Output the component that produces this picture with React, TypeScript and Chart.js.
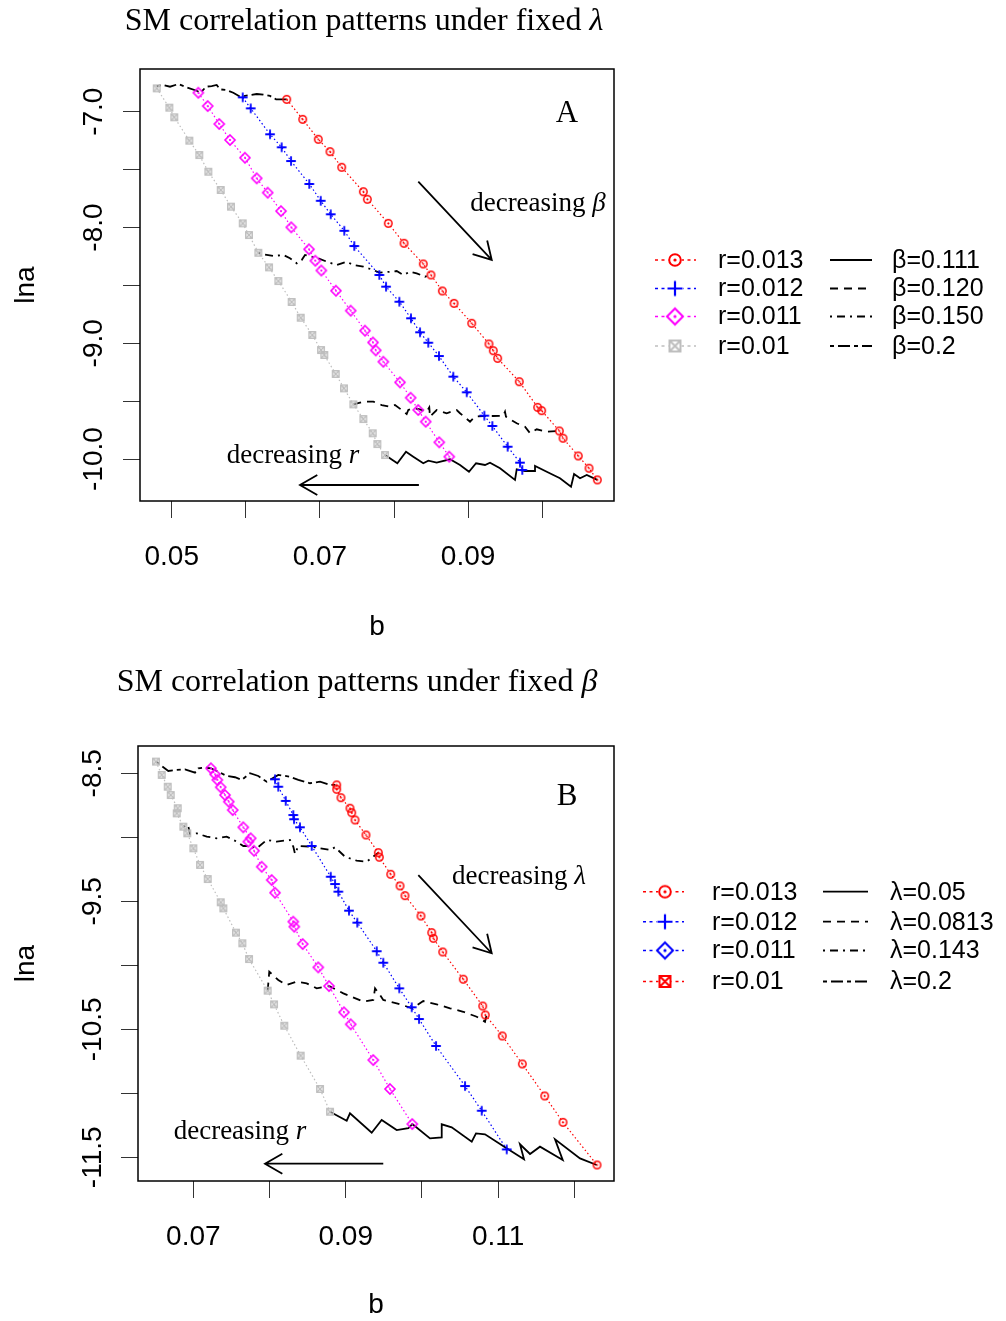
import React, { useEffect, useRef } from 'react';
import { Chart, registerables } from 'chart.js';

Chart.register(...registerables);

const SANS = "'Liberation Sans', Arial, Helvetica, sans-serif";
const SERIF = "'Liberation Serif', 'Times New Roman', Times, serif";

const RED = '#FF0000';
const BLUE = '#0000FF';
const MAGENTA = '#FF00FF';
const GREY = '#BEBEBE';
const BLACK = '#000000';

// ---------------- Panel A (fixed lambda) ----------------
const A_R013_B = [0.06552, 0.06768, 0.06978, 0.07136, 0.07294, 0.07586, 0.0764, 0.07923, 0.08135, 0.08395, 0.08499, 0.08652, 0.0881, 0.09049, 0.09282, 0.0934, 0.09399, 0.09691, 0.09939, 0.09993, 0.10231, 0.10281, 0.10487, 0.10632, 0.10744];
const A_R013_LNA = [-6.893, -7.066, -7.238, -7.345, -7.48, -7.691, -7.756, -7.964, -8.136, -8.315, -8.41, -8.548, -8.655, -8.827, -9.006, -9.064, -9.13, -9.332, -9.553, -9.582, -9.757, -9.82, -9.973, -10.079, -10.18];

const A_R012_B = [0.05958, 0.06066, 0.06327, 0.06484, 0.0661, 0.06857, 0.07011, 0.07146, 0.07329, 0.07464, 0.07802, 0.07892, 0.08072, 0.08229, 0.08351, 0.08463, 0.08607, 0.088, 0.08981, 0.09219, 0.09327, 0.09534, 0.097, 0.09731];
const A_R012_LNA = [-6.876, -6.971, -7.195, -7.307, -7.426, -7.624, -7.769, -7.886, -8.028, -8.16, -8.41, -8.511, -8.641, -8.784, -8.905, -8.995, -9.11, -9.288, -9.423, -9.625, -9.714, -9.893, -10.031, -10.094];

const A_R011_B = [0.05359, 0.05486, 0.05642, 0.05787, 0.05989, 0.06147, 0.06296, 0.06475, 0.06614, 0.06853, 0.06938, 0.07019, 0.07217, 0.07416, 0.07609, 0.07717, 0.07754, 0.07856, 0.08081, 0.08225, 0.08328, 0.08428, 0.08611, 0.08746];
const A_R011_LNA = [-6.836, -6.951, -7.106, -7.244, -7.397, -7.575, -7.699, -7.858, -7.998, -8.188, -8.287, -8.371, -8.546, -8.718, -8.891, -8.993, -9.061, -9.159, -9.337, -9.47, -9.576, -9.677, -9.855, -9.979];

const A_R010_B = [0.04798, 0.04968, 0.05035, 0.05238, 0.05372, 0.05494, 0.05661, 0.058, 0.05958, 0.06043, 0.06169, 0.06313, 0.06439, 0.06619, 0.06741, 0.06897, 0.07015, 0.07059, 0.07213, 0.07325, 0.07451, 0.07586, 0.07713, 0.07775, 0.07879];
const A_R010_LNA = [-6.798, -6.965, -7.048, -7.25, -7.374, -7.518, -7.676, -7.82, -7.964, -8.065, -8.218, -8.344, -8.462, -8.643, -8.779, -8.928, -9.058, -9.101, -9.265, -9.389, -9.527, -9.654, -9.777, -9.87, -9.965];

const A_BETA0111_B = [0.07879, 0.08045, 0.08162, 0.0826, 0.08395, 0.08463, 0.08576, 0.08756, 0.08891, 0.09012, 0.09107, 0.09228, 0.09296, 0.09431, 0.09633, 0.09656, 0.09768, 0.09903, 0.09903, 0.10061, 0.1024, 0.10389, 0.1043, 0.10511, 0.10601, 0.10744];
const A_BETA0111_LNA = [-9.965, -10.036, -9.936, -9.979, -10.036, -10.014, -10.031, -10.002, -10.051, -10.109, -10.036, -10.051, -10.031, -10.079, -10.18, -10.088, -10.103, -10.103, -10.06, -10.109, -10.166, -10.238, -10.129, -10.166, -10.137, -10.18];

const A_BETA0120_B = [0.07451, 0.07586, 0.07721, 0.07834, 0.07946, 0.08013, 0.08104, 0.08171, 0.08193, 0.0826, 0.08351, 0.08441, 0.08476, 0.08486, 0.08576, 0.08711, 0.08846, 0.08891, 0.09026, 0.09093, 0.09205, 0.0934, 0.09475, 0.09498, 0.09511, 0.09656, 0.09768, 0.09836, 0.09926, 0.10061, 0.10231];
const A_BETA0120_LNA = [-9.527, -9.504, -9.504, -9.533, -9.547, -9.533, -9.576, -9.611, -9.576, -9.561, -9.57, -9.591, -9.553, -9.634, -9.576, -9.604, -9.576, -9.604, -9.677, -9.634, -9.628, -9.628, -9.625, -9.591, -9.634, -9.691, -9.72, -9.777, -9.743, -9.763, -9.757];

const A_BETA0150_B = [0.06169, 0.06236, 0.06371, 0.06506, 0.06596, 0.06687, 0.06754, 0.06799, 0.06889, 0.06978, 0.07092, 0.07227, 0.07362, 0.07451, 0.07586, 0.07721, 0.07802, 0.07946, 0.08036, 0.08126, 0.08216, 0.08306, 0.08418, 0.08499];
const A_BETA0150_LNA = [-8.218, -8.231, -8.246, -8.237, -8.266, -8.309, -8.281, -8.237, -8.252, -8.266, -8.295, -8.324, -8.295, -8.324, -8.338, -8.367, -8.39, -8.382, -8.376, -8.41, -8.382, -8.396, -8.425, -8.41];

const A_BETA02_B = [0.04798, 0.04887, 0.04977, 0.05089, 0.05202, 0.05337, 0.05391, 0.05463, 0.0554, 0.05607, 0.05652, 0.05742, 0.05831, 0.05922, 0.06057, 0.06147, 0.06236, 0.06327, 0.06408, 0.06552];
const A_BETA02_LNA = [-6.778, -6.769, -6.784, -6.761, -6.789, -6.819, -6.836, -6.784, -6.778, -6.769, -6.807, -6.813, -6.836, -6.87, -6.856, -6.847, -6.853, -6.864, -6.893, -6.893];

// ---------------- Panel B (fixed beta) ----------------
const B_R013_B = [0.08882, 0.08882, 0.08938, 0.09056, 0.09079, 0.09122, 0.09266, 0.09428, 0.09441, 0.09591, 0.09713, 0.09778, 0.09988, 0.10129, 0.1015, 0.10273, 0.10543, 0.10798, 0.10832, 0.11055, 0.11318, 0.11612, 0.11852, 0.12298];
const B_R013_LNA = [-8.591, -8.625, -8.691, -8.773, -8.808, -8.865, -8.982, -9.12, -9.156, -9.289, -9.38, -9.456, -9.615, -9.745, -9.789, -9.896, -10.109, -10.318, -10.388, -10.552, -10.771, -11.021, -11.227, -11.56];

const B_R012_B = [0.08072, 0.08115, 0.08213, 0.08312, 0.08322, 0.084, 0.08554, 0.08803, 0.0886, 0.08903, 0.09043, 0.09152, 0.09407, 0.09493, 0.09703, 0.09866, 0.09962, 0.10185, 0.10566, 0.10785, 0.11113];
const B_R012_LNA = [-8.547, -8.605, -8.716, -8.826, -8.859, -8.922, -9.068, -9.308, -9.365, -9.425, -9.573, -9.667, -9.89, -9.98, -10.18, -10.328, -10.42, -10.63, -10.943, -11.136, -11.438];

const B_R011_B = [0.07232, 0.07285, 0.07315, 0.0736, 0.07416, 0.07465, 0.07517, 0.07656, 0.07753, 0.07722, 0.07797, 0.07898, 0.08029, 0.08072, 0.08312, 0.08325, 0.08436, 0.0864, 0.08781, 0.08978, 0.09066, 0.09362, 0.09581, 0.09874];
const B_R011_LNA = [-8.461, -8.508, -8.552, -8.609, -8.67, -8.722, -8.787, -8.922, -9.008, -9.034, -9.105, -9.23, -9.334, -9.433, -9.659, -9.698, -9.834, -10.016, -10.162, -10.367, -10.461, -10.74, -10.966, -11.24];

const B_R010_B = [0.0651, 0.06585, 0.06664, 0.06703, 0.06795, 0.06782, 0.06869, 0.06921, 0.07, 0.07088, 0.07189, 0.0736, 0.07394, 0.0756, 0.07643, 0.07731, 0.07976, 0.08059, 0.08194, 0.08409, 0.08663, 0.08794];
const B_R010_LNA = [-8.409, -8.513, -8.605, -8.67, -8.773, -8.813, -8.917, -8.969, -9.086, -9.216, -9.326, -9.508, -9.555, -9.745, -9.828, -9.951, -10.198, -10.305, -10.472, -10.706, -10.966, -11.144];

const B_LAM005_B = [0.08794, 0.09013, 0.09056, 0.09341, 0.09472, 0.09669, 0.09822, 0.09874, 0.10106, 0.1026, 0.1026, 0.10391, 0.10654, 0.1071, 0.10828, 0.11091, 0.1134, 0.11287, 0.11419, 0.1155, 0.11848, 0.11747, 0.12075, 0.12294];
const B_LAM005_LNA = [-11.144, -11.214, -11.156, -11.308, -11.209, -11.287, -11.273, -11.24, -11.352, -11.344, -11.242, -11.266, -11.378, -11.313, -11.32, -11.422, -11.516, -11.398, -11.474, -11.417, -11.521, -11.359, -11.508, -11.56];

const B_LAM0813_B = [0.07976, 0.07997, 0.08115, 0.08226, 0.08357, 0.08488, 0.08619, 0.08781, 0.08969, 0.09231, 0.09362, 0.09385, 0.0945, 0.09493, 0.09669, 0.09874, 0.10018, 0.10194, 0.10369, 0.10543, 0.10719, 0.10828, 0.1085];
const B_LAM0813_LNA = [-10.198, -10.05, -10.115, -10.154, -10.128, -10.141, -10.18, -10.162, -10.219, -10.284, -10.271, -10.18, -10.232, -10.271, -10.297, -10.336, -10.279, -10.305, -10.336, -10.363, -10.402, -10.441, -10.388];

const B_LAM0143_B = [0.06869, 0.0693, 0.06957, 0.07045, 0.07176, 0.07307, 0.07438, 0.0757, 0.07656, 0.07744, 0.07832, 0.07963, 0.08094, 0.08269, 0.08312, 0.08335, 0.08378, 0.08554, 0.08663, 0.08794, 0.0886, 0.08991, 0.09144, 0.09276, 0.09428];
const B_LAM0143_LNA = [-8.917, -8.904, -8.974, -8.969, -8.995, -9.008, -8.995, -9.034, -9.068, -9.068, -9.086, -9.021, -9.034, -9.021, -9.073, -9.13, -9.068, -9.073, -9.086, -9.099, -9.078, -9.152, -9.183, -9.191, -9.12];

const B_LAM02_B = [0.0651, 0.06672, 0.06782, 0.06891, 0.07022, 0.07066, 0.07154, 0.07232, 0.07328, 0.07438, 0.07547, 0.07635, 0.07744, 0.07853, 0.07963, 0.08115, 0.08269, 0.08378, 0.08532, 0.08663, 0.08794, 0.08882];
const B_LAM02_LNA = [-8.409, -8.482, -8.474, -8.469, -8.495, -8.461, -8.456, -8.461, -8.488, -8.521, -8.531, -8.552, -8.5, -8.521, -8.566, -8.513, -8.527, -8.552, -8.578, -8.566, -8.591, -8.591];

// ---------------- tick labels, legends, annotations ----------------
const A_X_LABELS = ['0.05', '0.07', '0.09'];
const A_Y_LABELS = ['-7.0', '-8.0', '-9.0', '-10.0'];
const B_X_LABELS = ['0.07', '0.09', '0.11'];
const B_Y_LABELS = ['-8.5', '-9.5', '-10.5', '-11.5'];

const R_LEGEND = ['r=0.013', 'r=0.012', 'r=0.011', 'r=0.01'];
const A_BETA_LEGEND = ['\u03B2=0.111', '\u03B2=0.120', '\u03B2=0.150', '\u03B2=0.2'];
const B_LAMBDA_LEGEND = ['\u03BB=0.05', '\u03BB=0.0813', '\u03BB=0.143', '\u03BB=0.2'];

// annotation anchors in data units: [b, lna]
const A_LETTER_POS = [0.10334, -7.021];
const A_ARROW1 = [0.08328, -7.604, 0.09319, -8.28];
const A_TEXT1_POS = [0.09943, -7.797];
const A_ARROW2 = [0.08336, -10.224, 0.06731, -10.224];
const A_TEXT2_POS = [0.06637, -9.973];

const B_LETTER_POS = [0.11904, -8.685];
const B_ARROW1 = [0.09953, -9.295, 0.10916, -9.906];
const B_TEXT1_POS = [0.11274, -9.31];
const B_ARROW2 = [0.09493, -11.55, 0.07941, -11.55];
const B_TEXT2_POS = [0.07613, -11.302];

const DASH: Record<string, number[]> = {
  solid: [],
  dashed: [8, 6],
  dotdash: [2, 5, 8, 5],
  twodash: [4, 4, 12, 4],
  dotted: [1.5, 2.5],
};

function makeMarker(kind: string, color: string, size: number, lw: number): HTMLCanvasElement {
  const c = document.createElement('canvas');
  const s = Math.ceil(size * 2 + lw * 2 + 2);
  c.width = s;
  c.height = s;
  const g = c.getContext('2d')!;
  const m = s / 2;
  g.strokeStyle = color;
  g.fillStyle = color;
  g.lineWidth = lw;
  if (kind === 'circlePlus') {
    g.beginPath();
    g.arc(m, m, size, 0, Math.PI * 2);
    g.stroke();
    g.beginPath();
    g.arc(m, m, Math.max(0.8, size * 0.28), 0, Math.PI * 2);
    g.fill();
  } else if (kind === 'plus') {
    g.beginPath();
    g.moveTo(m - size, m);
    g.lineTo(m + size, m);
    g.moveTo(m, m - size);
    g.lineTo(m, m + size);
    g.stroke();
  } else if (kind === 'diamondPlus') {
    g.beginPath();
    g.moveTo(m, m - size);
    g.lineTo(m + size, m);
    g.lineTo(m, m + size);
    g.lineTo(m - size, m);
    g.closePath();
    g.stroke();
    g.beginPath();
    g.arc(m, m, Math.max(0.8, size * 0.2), 0, Math.PI * 2);
    g.fill();
  } else if (kind === 'squareCross') {
    g.strokeRect(m - size, m - size, size * 2, size * 2);
    g.beginPath();
    g.moveTo(m - size, m - size);
    g.lineTo(m + size, m + size);
    g.moveTo(m + size, m - size);
    g.lineTo(m - size, m + size);
    g.stroke();
  }
  return c;
}

type LegendR = { kind: string; color: string };

type PanelCfg = {
  top: number;
  height: number;
  padTop: number;
  padRight: number;
  yWidth: number;
  xHeight: number;
  xMin: number;
  xMax: number;
  yMin: number;
  yMax: number;
  xLabels: string[];
  yLabels: string[];
  titleMain: string;
  titleSym: string;
  titleCx: number;
  titleBase: number;
  yLabelCx: number;
  yTitleCx: number;
  xTitleCy: number;
  letter: string;
  letterPos: number[];
  arrow1: number[];
  text1: string;
  text1Sym: string;
  text1Pos: number[];
  arrow2: number[];
  text2Pos: number[];
  series: { xs: number[]; ys: number[]; color: string; kind: string }[];
  lines: { xs: number[]; ys: number[]; dash: string }[];
  legendRows: number[];
  legendR: LegendR[];
  legendRText: string[];
  legendLText: string[];
  legendLDash: string[];
  lg: { s0: number; s1: number; m: number; t1: number; l0: number; l1: number; t2: number };
};

const PANEL_A: PanelCfg = {
  top: 0,
  height: 660,
  padTop: 69,
  padRight: 392,
  yWidth: 140,
  xHeight: 159,
  xMin: 0.04572,
  xMax: 0.10969,
  yMin: -10.362,
  yMax: -6.631,
  xLabels: A_X_LABELS,
  yLabels: A_Y_LABELS,
  titleMain: 'SM correlation patterns under fixed ',
  titleSym: '\u03BB',
  titleCx: 364,
  titleBase: 30,
  yLabelCx: 94,
  yTitleCx: 26,
  xTitleCy: 627,
  letter: 'A',
  letterPos: A_LETTER_POS,
  arrow1: A_ARROW1,
  text1: 'decreasing ',
  text1Sym: '\u03B2',
  text1Pos: A_TEXT1_POS,
  arrow2: A_ARROW2,
  text2Pos: A_TEXT2_POS,
  series: [
    { xs: A_R013_B, ys: A_R013_LNA, color: RED, kind: 'circlePlus' },
    { xs: A_R012_B, ys: A_R012_LNA, color: BLUE, kind: 'plus' },
    { xs: A_R011_B, ys: A_R011_LNA, color: MAGENTA, kind: 'diamondPlus' },
    { xs: A_R010_B, ys: A_R010_LNA, color: GREY, kind: 'squareCross' },
  ],
  lines: [
    { xs: A_BETA0111_B, ys: A_BETA0111_LNA, dash: 'solid' },
    { xs: A_BETA0120_B, ys: A_BETA0120_LNA, dash: 'dashed' },
    { xs: A_BETA0150_B, ys: A_BETA0150_LNA, dash: 'dotdash' },
    { xs: A_BETA02_B, ys: A_BETA02_LNA, dash: 'twodash' },
  ],
  legendRows: [260, 288.5, 316.5, 346],
  legendR: [
    { kind: 'circlePlus', color: RED },
    { kind: 'plus', color: BLUE },
    { kind: 'diamondPlus', color: MAGENTA },
    { kind: 'squareCross', color: GREY },
  ],
  legendRText: R_LEGEND,
  legendLText: A_BETA_LEGEND,
  legendLDash: ['solid', 'dashed', 'dotdash', 'twodash'],
  lg: { s0: 655, s1: 696, m: 675, t1: 718, l0: 830, l1: 872, t2: 892 },
};

const PANEL_B: PanelCfg = {
  top: 660,
  height: 661,
  padTop: 86,
  padRight: 392,
  yWidth: 138,
  xHeight: 140,
  xMin: 0.06274,
  xMax: 0.12521,
  yMin: -11.685,
  yMax: -8.287,
  xLabels: B_X_LABELS,
  yLabels: B_Y_LABELS,
  titleMain: 'SM correlation patterns under fixed ',
  titleSym: '\u03B2',
  titleCx: 357,
  titleBase: 31,
  yLabelCx: 93,
  yTitleCx: 26,
  xTitleCy: 645,
  letter: 'B',
  letterPos: B_LETTER_POS,
  arrow1: B_ARROW1,
  text1: 'decreasing ',
  text1Sym: '\u03BB',
  text1Pos: B_TEXT1_POS,
  arrow2: B_ARROW2,
  text2Pos: B_TEXT2_POS,
  series: [
    { xs: B_R013_B, ys: B_R013_LNA, color: RED, kind: 'circlePlus' },
    { xs: B_R012_B, ys: B_R012_LNA, color: BLUE, kind: 'plus' },
    { xs: B_R011_B, ys: B_R011_LNA, color: MAGENTA, kind: 'diamondPlus' },
    { xs: B_R010_B, ys: B_R010_LNA, color: GREY, kind: 'squareCross' },
  ],
  lines: [
    { xs: B_LAM005_B, ys: B_LAM005_LNA, dash: 'solid' },
    { xs: B_LAM0813_B, ys: B_LAM0813_LNA, dash: 'dashed' },
    { xs: B_LAM0143_B, ys: B_LAM0143_LNA, dash: 'dotdash' },
    { xs: B_LAM02_B, ys: B_LAM02_LNA, dash: 'twodash' },
  ],
  legendRows: [231.7, 261.7, 290.5, 321.5],
  legendR: [
    { kind: 'circlePlus', color: RED },
    { kind: 'plus', color: BLUE },
    { kind: 'diamondPlus', color: BLUE },
    { kind: 'squareCross', color: RED },
  ],
  legendRText: R_LEGEND,
  legendLText: B_LAMBDA_LEGEND,
  legendLDash: ['solid', 'dashed', 'dotdash', 'twodash'],
  lg: { s0: 643, s1: 684, m: 665, t1: 712, l0: 823, l1: 868, t2: 890 },
};

const MARKER_SIZE: Record<string, [number, number]> = {
  circlePlus: [3.7, 1.5],
  plus: [4.8, 1.8],
  diamondPlus: [5, 1.6],
  squareCross: [3.2, 1.5],
};
const LEGEND_MARKER_SIZE: Record<string, [number, number]> = {
  circlePlus: [5.8, 2],
  plus: [7.5, 2.2],
  diamondPlus: [8, 2],
  squareCross: [5.5, 2],
};

function drawArrow(ctx: CanvasRenderingContext2D, x0: number, y0: number, x1: number, y1: number) {
  const ang = Math.atan2(y1 - y0, x1 - x0);
  const len = 20;
  const spread = Math.PI / 6;
  ctx.beginPath();
  ctx.moveTo(x0, y0);
  ctx.lineTo(x1, y1);
  ctx.moveTo(x1 - len * Math.cos(ang - spread), y1 - len * Math.sin(ang - spread));
  ctx.lineTo(x1, y1);
  ctx.lineTo(x1 - len * Math.cos(ang + spread), y1 - len * Math.sin(ang + spread));
  ctx.stroke();
}

function drawMixed(ctx: CanvasRenderingContext2D, main: string, sym: string, cx: number, y: number, size: number, baseline: CanvasTextBaseline) {
  const fMain = `${size}px ${SERIF}`;
  const fSym = `italic ${size}px ${SERIF}`;
  ctx.font = fMain;
  const w1 = ctx.measureText(main).width;
  ctx.font = fSym;
  const w2 = ctx.measureText(sym).width;
  const x = cx - (w1 + w2) / 2;
  ctx.textAlign = 'left';
  ctx.textBaseline = baseline;
  ctx.font = fMain;
  ctx.fillText(main, x, y);
  ctx.font = fSym;
  ctx.fillText(sym, x + w1, y);
}

function PanelChart({ cfg }: { cfg: PanelCfg }) {
  const ref = useRef<HTMLCanvasElement | null>(null);

  useEffect(() => {
    const canvas = ref.current;
    if (!canvas) return;

    const datasets: any[] = [];
    cfg.series.forEach((s) => {
      const [sz, lw] = MARKER_SIZE[s.kind];
      datasets.push({
        data: s.xs.map((x, i) => ({ x, y: s.ys[i] })),
        showLine: true,
        borderColor: s.color,
        borderWidth: 1.2,
        borderDash: DASH.dotted,
        pointStyle: makeMarker(s.kind, s.color, sz, lw),
        pointRadius: 4,
        pointHoverRadius: 4,
        backgroundColor: s.color,
        tension: 0,
        fill: false,
      });
    });
    cfg.lines.forEach((l) => {
      datasets.push({
        data: l.xs.map((x, i) => ({ x, y: l.ys[i] })),
        showLine: true,
        borderColor: BLACK,
        borderWidth: 1.8,
        borderDash: DASH[l.dash],
        pointRadius: 0,
        pointHoverRadius: 0,
        tension: 0,
        fill: false,
      });
    });

    const decor = {
      id: 'decor',
      afterDraw(chart: any) {
        const ctx: CanvasRenderingContext2D = chart.ctx;
        const area = chart.chartArea;
        const xs = chart.scales.x;
        const ys = chart.scales.y;
        ctx.save();
        // box
        ctx.strokeStyle = BLACK;
        ctx.lineWidth = 1.5;
        ctx.setLineDash([]);
        ctx.strokeRect(area.left, area.top, area.right - area.left, area.bottom - area.top);

        // y tick labels (rotated)
        ctx.fillStyle = BLACK;
        ctx.font = `28px ${SANS}`;
        ctx.textAlign = 'center';
        ctx.textBaseline = 'middle';
        ys.ticks.forEach((t: any) => {
          const s = Number(t.value).toFixed(1);
          if (!cfg.yLabels.includes(s)) return;
          const py = ys.getPixelForValue(t.value);
          ctx.save();
          ctx.translate(cfg.yLabelCx, py);
          ctx.rotate(-Math.PI / 2);
          ctx.fillText(s, 0, 0);
          ctx.restore();
        });

        // axis titles
        ctx.font = `28px ${SANS}`;
        ctx.save();
        ctx.translate(cfg.yTitleCx, (area.top + area.bottom) / 2);
        ctx.rotate(-Math.PI / 2);
        ctx.fillText('lna', 0, 0);
        ctx.restore();
        ctx.fillText('b', (area.left + area.right) / 2, cfg.xTitleCy);

        // title
        ctx.fillStyle = BLACK;
        drawMixed(ctx, cfg.titleMain, cfg.titleSym, cfg.titleCx, cfg.titleBase, 32, 'alphabetic');

        // panel letter
        ctx.font = `31px ${SERIF}`;
        ctx.textAlign = 'center';
        ctx.textBaseline = 'middle';
        ctx.fillText(cfg.letter, xs.getPixelForValue(cfg.letterPos[0]), ys.getPixelForValue(cfg.letterPos[1]));

        // annotations
        drawMixed(ctx, cfg.text1, cfg.text1Sym, xs.getPixelForValue(cfg.text1Pos[0]), ys.getPixelForValue(cfg.text1Pos[1]), 27, 'middle');
        drawMixed(ctx, 'decreasing ', 'r', xs.getPixelForValue(cfg.text2Pos[0]), ys.getPixelForValue(cfg.text2Pos[1]), 27, 'middle');
        ctx.strokeStyle = BLACK;
        ctx.lineWidth = 1.8;
        const a1 = cfg.arrow1;
        drawArrow(ctx, xs.getPixelForValue(a1[0]), ys.getPixelForValue(a1[1]), xs.getPixelForValue(a1[2]), ys.getPixelForValue(a1[3]));
        const a2 = cfg.arrow2;
        drawArrow(ctx, xs.getPixelForValue(a2[0]), ys.getPixelForValue(a2[1]), xs.getPixelForValue(a2[2]), ys.getPixelForValue(a2[3]));

        // legend
        const lg = cfg.lg;
        cfg.legendRows.forEach((ry, i) => {
          const it = cfg.legendR[i];
          ctx.strokeStyle = it.color;
          ctx.lineWidth = 1.6;
          ctx.setLineDash([3, 3.5]);
          ctx.beginPath();
          ctx.moveTo(lg.s0, ry);
          ctx.lineTo(lg.s1, ry);
          ctx.stroke();
          ctx.setLineDash([]);
          const [sz, lw] = LEGEND_MARKER_SIZE[it.kind];
          const mk = makeMarker(it.kind, it.color, sz, lw);
          ctx.fillStyle = '#FFFFFF';
          ctx.fillRect(lg.m - sz - 1, ry - sz - 1, sz * 2 + 2, sz * 2 + 2);
          ctx.drawImage(mk, lg.m - mk.width / 2, ry - mk.height / 2);

          ctx.fillStyle = BLACK;
          ctx.font = `25px ${SANS}`;
          ctx.textAlign = 'left';
          ctx.textBaseline = 'middle';
          ctx.fillText(cfg.legendRText[i], lg.t1, ry + 1);

          ctx.strokeStyle = BLACK;
          ctx.lineWidth = 1.8;
          ctx.setLineDash(DASH[cfg.legendLDash[i]]);
          ctx.beginPath();
          ctx.moveTo(lg.l0, ry);
          ctx.lineTo(lg.l1, ry);
          ctx.stroke();
          ctx.setLineDash([]);
          ctx.fillText(cfg.legendLText[i], lg.t2, ry + 1);
        });

        ctx.restore();
      },
    };

    const chart = new Chart(canvas, {
      type: 'scatter',
      data: { datasets },
      options: {
        responsive: false,
        animation: false,
        events: [],
        layout: { padding: { left: 0, top: cfg.padTop, right: cfg.padRight, bottom: 0 }, autoPadding: false },
        plugins: { legend: { display: false }, title: { display: false }, tooltip: { enabled: false } },
        scales: {
          x: {
            type: 'linear',
            position: 'bottom',
            min: cfg.xMin,
            max: cfg.xMax,
            afterFit: (s: any) => {
              s.height = cfg.xHeight;
            },
            grid: { drawOnChartArea: false, drawTicks: true, tickLength: 17, color: '#333', tickColor: '#333', lineWidth: 1 },
            border: { display: false },
            ticks: {
              stepSize: 0.01,
              includeBounds: false,
              autoSkip: false,
              minRotation: 0,
              maxRotation: 0,
              padding: 22,
              color: BLACK,
              font: { family: SANS, size: 28 },
              callback: (v: any) => {
                const s = Number(v).toFixed(2);
                return cfg.xLabels.includes(s) ? s : '';
              },
            },
          },
          y: {
            type: 'linear',
            position: 'left',
            min: cfg.yMin,
            max: cfg.yMax,
            afterFit: (s: any) => {
              s.width = cfg.yWidth;
            },
            grid: { drawOnChartArea: false, drawTicks: true, tickLength: 17, color: '#333', tickColor: '#333', lineWidth: 1 },
            border: { display: false },
            ticks: { stepSize: 0.5, includeBounds: false, autoSkip: false, display: false },
          },
        },
      } as any,
      plugins: [decor],
    });

    return () => {
      chart.destroy();
    };
  }, [cfg]);

  return (
    <canvas
      ref={ref}
      width={1006}
      height={cfg.height}
      style={{ position: 'absolute', left: 0, top: cfg.top, width: 1006, height: cfg.height, display: 'block' }}
    />
  );
}

export default function App() {
  return (
    <div style={{ position: 'absolute', left: 0, top: 0, width: 1006, height: 1321, background: '#FFFFFF', overflow: 'hidden' }}>
      <PanelChart cfg={PANEL_A} />
      <PanelChart cfg={PANEL_B} />
    </div>
  );
}
